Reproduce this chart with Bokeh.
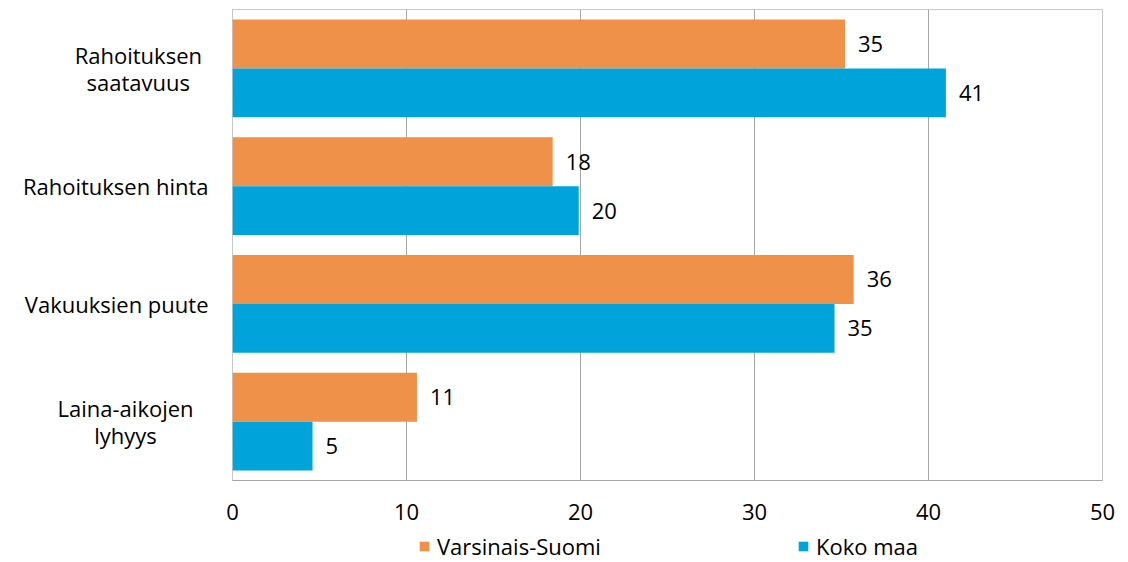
from bokeh.plotting import figure
from bokeh.models import (ColumnDataSource, FactorRange, Legend, LegendItem, FixedTicker,
                          LabelSet, Range1d)
from bokeh.layouts import row, column
from bokeh.transform import dodge
from bokeh.embed import file_html
from bokeh.resources import INLINE
from bokeh.core.properties import value

categories = ["Rahoituksen saatavuus", "Rahoituksen hinta", "Vakuuksien puute", "Laina-aikojen lyhyys"]
cat_labels = ["Rahoituksen\nsaatavuus", "Rahoituksen hinta", "Vakuuksien puute", "Laina-aikojen\nlyhyys"]
varsinais_suomi = [35.2, 18.4, 35.7, 10.6]
koko_maa = [41.0, 19.9, 34.6, 4.6]
series_names = ["Varsinais-Suomi", "Koko maa"]
x_ticks = [0, 10, 20, 30, 40, 50]

FONT = "Open Sans"
FS = 22
ORANGE = "#F0914A"
BLUE = "#00A4DA"
GRID = "#A6A6A6"

y_range = FactorRange(factors=list(reversed(categories)))

src = ColumnDataSource(dict(
    cat=categories,
    vs=varsinais_suomi,
    km=koko_maa,
    vs_lab=[str(int(v + 0.5)) for v in varsinais_suomi],
    km_lab=[str(int(v + 0.5)) for v in koko_maa],
))

# ---- main chart
p = figure(width=916, height=530, output_backend="svg", toolbar_location=None,
           y_range=y_range, x_range=Range1d(0, 50),
           min_border_left=20, min_border_right=26, min_border_top=9, min_border_bottom=50)

r1 = p.hbar(y=dodge("cat", 0.2075, range=y_range), right="vs", left=0, height=0.415,
            source=src, fill_color=ORANGE, line_color=None)
r2 = p.hbar(y=dodge("cat", -0.2075, range=y_range), right="km", left=0, height=0.415,
            source=src, fill_color=BLUE, line_color=None)

for col, lab, off in (("vs", "vs_lab", 0.2075), ("km", "km_lab", -0.2075)):
    p.add_layout(LabelSet(x=col, y=dodge("cat", off, range=y_range), text=lab, source=src,
                          x_offset=13, text_baseline="middle", text_font=value(FONT),
                          text_font_size=f"{FS}px", text_color="#000000"))

p.xaxis.ticker = FixedTicker(ticks=x_ticks)
p.xaxis.major_tick_line_color = None
p.xaxis.minor_tick_line_color = None
p.xaxis.axis_line_color = GRID
p.xaxis.major_label_text_font = FONT
p.xaxis.major_label_text_font_size = f"{FS}px"
p.xaxis.major_label_text_color = "#000000"
p.xaxis.major_label_standoff = 17
p.yaxis.visible = False

p.xgrid.ticker = FixedTicker(ticks=x_ticks[:-1])
p.xgrid.grid_line_color = GRID
p.ygrid.grid_line_color = None
p.outline_line_color = "#C8C8C8"

# ---- category labels (left column)
lx, ly, lt, loff, lal = [], [], [], [], []
LINE_H = 27
for cat, lab in zip(categories, cat_labels):
    lines = lab.split("\n")
    n = len(lines)
    if n == 1:
        lx.append(208); ly.append(cat); lt.append(lines[0]); loff.append(0); lal.append("right")
    else:
        half = max(len(s) for s in lines) * FS * 0.29
        for i, s in enumerate(lines):
            lx.append(208 - half); ly.append(cat); lt.append(s)
            loff.append((i - (n - 1) / 2) * LINE_H); lal.append("center")

lab_src = ColumnDataSource(dict(x=lx, y=ly, t=lt, off=loff, al=lal))
pl = figure(width=212, height=530, output_backend="svg", toolbar_location=None,
            y_range=y_range, x_range=Range1d(0, 212),
            x_axis_type=None, y_axis_type=None,
            min_border_left=0, min_border_right=0, min_border_top=9, min_border_bottom=50)
pl.text(x="x", y="y", text="t", y_offset="off", text_align="al", text_baseline="middle",
        source=lab_src, text_font=value(FONT), text_font_size=f"{FS}px", text_color="#000000")
pl.outline_line_color = None
pl.xgrid.visible = False
pl.ygrid.visible = False

# ---- legend strip
pg = figure(width=1128, height=32, output_backend="svg", toolbar_location=None,
            x_range=Range1d(0, 1), y_range=Range1d(0, 1),
            x_axis_type=None, y_axis_type=None,
            min_border_left=0, min_border_right=0, min_border_top=0, min_border_bottom=0)
pg.outline_line_color = None
pg.xgrid.visible = False
pg.ygrid.visible = False
# legend-key renderers (placed outside the visible range; only their keys are shown)
g1 = pg.hbar(y=[-5], right=[-5], left=[-6], height=0.5, fill_color=ORANGE, line_color=None)
g2 = pg.hbar(y=[-5], right=[-5], left=[-6], height=0.5, fill_color=BLUE, line_color=None)
for name, rend, xpos in ((series_names[0], g1, 418), (series_names[1], g2, 797)):
    pg.add_layout(Legend(items=[LegendItem(label=name, renderers=[rend])],
                         location=(xpos, 1), orientation="horizontal",
                         label_text_font=FONT, label_text_font_size=f"{FS}px",
                         label_text_color="#000000",
                         glyph_width=12, glyph_height=12, padding=0, margin=0,
                         border_line_color=None, background_fill_alpha=0,
                         label_standoff=7))

layout = column(row(pl, p, spacing=0), pg, spacing=0)

open("out.html", "w").write(file_html(layout, INLINE))
